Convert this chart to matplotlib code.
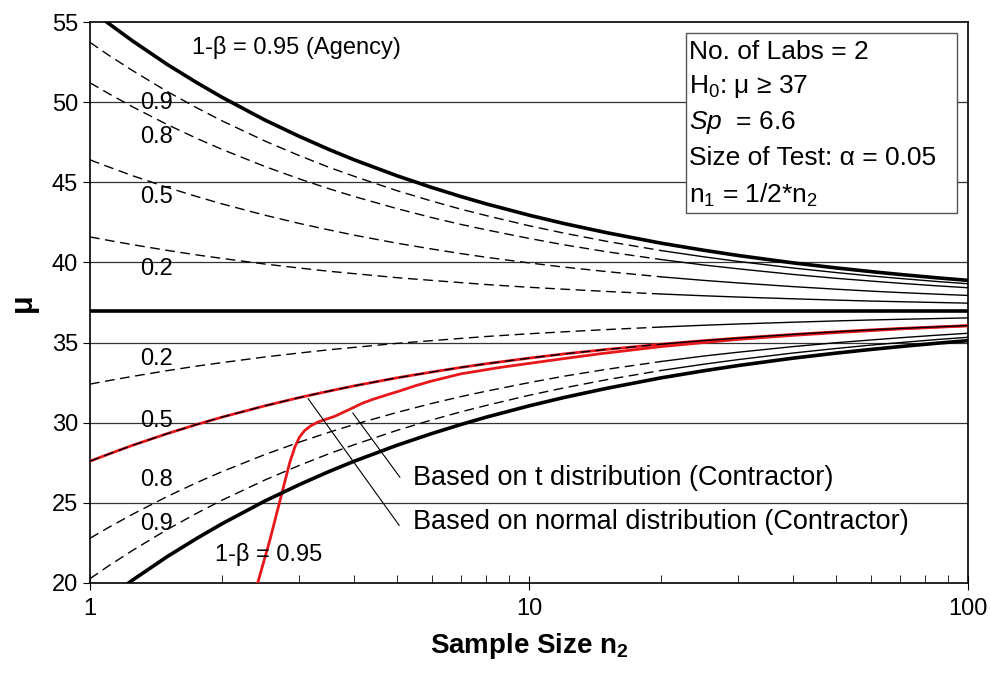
import matplotlib
matplotlib.use("Agg")
import matplotlib.pyplot as plt
from matplotlib.patches import Rectangle

plt.rcParams['font.family'] = ['Liberation Sans', 'DejaVu Sans']
plt.rcParams['mathtext.fontset'] = 'custom'
plt.rcParams['mathtext.rm'] = 'Liberation Sans'
plt.rcParams['mathtext.it'] = 'Liberation Sans:italic'
plt.rcParams['mathtext.bf'] = 'Liberation Sans:bold'

# ---------------- data ----------------
n2 = [1, 1.1, 1.25, 1.5, 1.75, 2, 2.5, 3, 3.5, 4, 5, 6, 7, 8, 10, 12, 15, 20,
      25, 30, 40, 50, 60, 70, 85, 100]

agency_095 = [55.81, 54.93, 53.82, 52.35, 51.22, 50.30, 48.89, 47.86, 47.05, 46.40, 45.41, 44.68, 44.11,
              43.65, 42.95, 42.43, 41.86, 41.20, 40.76, 40.43, 39.97, 39.66, 39.43, 39.25, 39.04, 38.88]
agency_090 = [53.73, 52.95, 51.97, 50.66, 49.65, 48.83, 47.58, 46.66, 45.94, 45.37, 44.48, 43.83, 43.32,
              42.92, 42.29, 41.83, 41.32, 40.74, 40.35, 40.06, 39.65, 39.37, 39.16, 39.00, 38.81, 38.67]
agency_080 = [51.21, 50.55, 49.71, 48.60, 47.74, 47.05, 45.99, 45.21, 44.60, 44.11, 43.36, 42.80, 42.37,
              42.03, 41.50, 41.10, 40.67, 40.18, 39.84, 39.60, 39.25, 39.01, 38.84, 38.70, 38.54, 38.42]
agency_050 = [46.40, 45.97, 45.41, 44.68, 44.11, 43.65, 42.95, 42.43, 42.03, 41.70, 41.20, 40.84, 40.55,
              40.32, 39.97, 39.71, 39.43, 39.10, 38.88, 38.72, 38.49, 38.33, 38.21, 38.12, 38.02, 37.94]
agency_020 = [41.59, 41.38, 41.11, 40.75, 40.47, 40.25, 39.90, 39.65, 39.45, 39.30, 39.05, 38.88, 38.74,
              38.62, 38.45, 38.33, 38.19, 38.03, 37.92, 37.84, 37.73, 37.65, 37.59, 37.55, 37.50, 37.46]

contr_095 = [18.19, 19.07, 20.18, 21.65, 22.78, 23.70, 25.11, 26.14, 26.95, 27.60, 28.59, 29.32, 29.89,
             30.35, 31.05, 31.57, 32.14, 32.80, 33.24, 33.57, 34.03, 34.34, 34.57, 34.75, 34.96, 35.12]
contr_090 = [20.27, 21.05, 22.03, 23.34, 24.35, 25.17, 26.42, 27.34, 28.06, 28.63, 29.52, 30.17, 30.68,
             31.08, 31.71, 32.17, 32.68, 33.26, 33.65, 33.94, 34.35, 34.63, 34.84, 35.00, 35.19, 35.33]
contr_080 = [22.79, 23.45, 24.29, 25.40, 26.26, 26.95, 28.01, 28.79, 29.40, 29.89, 30.64, 31.20, 31.63,
             31.97, 32.50, 32.90, 33.33, 33.82, 34.16, 34.40, 34.75, 34.99, 35.16, 35.30, 35.46, 35.58]
contr_050 = [27.60, 28.03, 28.59, 29.32, 29.89, 30.35, 31.05, 31.57, 31.97, 32.30, 32.80, 33.16, 33.45,
             33.68, 34.03, 34.29, 34.57, 34.90, 35.12, 35.28, 35.51, 35.67, 35.79, 35.88, 35.98, 36.06]
contr_020 = [32.41, 32.62, 32.89, 33.25, 33.53, 33.75, 34.10, 34.35, 34.55, 34.70, 34.95, 35.12, 35.26,
             35.38, 35.55, 35.67, 35.81, 35.97, 36.08, 36.16, 36.27, 36.35, 36.41, 36.45, 36.50, 36.54]

# t-distribution based curve (contractor, 1-beta = 0.5)
t_n2 = [2.41, 2.57, 2.73, 2.85, 2.93, 3.0, 3.08, 3.18, 3.31, 3.61, 3.95, 4.16, 4.4, 4.70, 5.1, 5.5,
        6.0, 7.0, 8.6, 10, 12, 14.5, 20, 25, 30, 40, 50, 70, 100]
t_050 = [20.0, 22.7, 25.5, 27.5, 28.5, 29.1, 29.5, 29.8, 30.05, 30.4, 30.9, 31.2, 31.45, 31.7, 32.0, 32.3,
         32.6, 33.05, 33.45, 33.7, 34.0, 34.3, 34.75, 35.0, 35.2, 35.45, 35.62, 35.85, 36.04]

h0_mu = 37

upper_labels = ["0.9", "0.8", "0.5", "0.2"]
upper_label_y = [49.94, 47.8, 44.06, 39.6]
lower_labels = ["0.2", "0.5", "0.8", "0.9"]
lower_label_y = [34.0, 30.1, 26.4, 23.7]

box_lines = ["No. of Labs = 2", "H$_0$: μ ≥ 37", "$Sp$  = 6.6", "Size of Test: α = 0.05", "n$_1$ = 1/2*n$_2$"]

t_note = "Based on t distribution (Contractor)"
n_note = "Based on normal distribution (Contractor)"
t_pointer = [(5.08, 26.6), (3.97, 30.6)]
n_pointer = [(5.06, 23.6), (3.14, 31.5)]

# ---------------- figure ----------------
fig = plt.figure(figsize=(9.9, 6.75), dpi=100)
ax = fig.add_axes([0.0909, 0.1363, 0.8869, 0.8311])
ax.set_xscale('log')
ax.set_xlim(1, 100)
ax.set_ylim(20, 55)

for y in [25, 30, 35, 40, 45, 50]:
    ax.axhline(y, color='#333333', lw=0.9, zorder=1)
ax.axhline(h0_mu, color='black', lw=2.6, zorder=3)

split = n2.index(20)

def dashed_curve(ys):
    ax.plot(n2[:split + 1], ys[:split + 1], color='black', lw=1.0,
            dashes=(7, 4), zorder=4)
    ax.plot(n2[split:], ys[split:], color='black', lw=1.0, zorder=4)

# red under-line for the normal 0.5 contractor curve and the t-based curve
ax.plot(n2, contr_050, color='#e8171c', lw=2.0, zorder=3)
ax.plot(t_n2, t_050, color='#e8171c', lw=2.0, zorder=3)

for ys in [agency_090, agency_080, agency_050, agency_020,
           contr_090, contr_080, contr_050, contr_020]:
    dashed_curve(ys)

ax.plot(n2, agency_095, color='black', lw=2.6, zorder=4)
ax.plot(n2, contr_095, color='black', lw=2.6, zorder=4)

fs = 17
ax.text(1.707, 53.44, "1-β = 0.95 (Agency)", fontsize=fs, va='center', ha='left')
for lab, y in zip(upper_labels, upper_label_y):
    ax.text(1.42, y, lab, fontsize=fs, va='center', ha='center')
for lab, y in zip(lower_labels, lower_label_y):
    ax.text(1.42, y, lab, fontsize=fs, va='center', ha='center')
ax.text(1.93, 21.8, "1-β = 0.95", fontsize=fs, va='center', ha='left')

# annotations
ax.plot([p[0] for p in t_pointer], [p[1] for p in t_pointer], color='black', lw=0.8, zorder=5)
ax.plot([p[0] for p in n_pointer], [p[1] for p in n_pointer], color='black', lw=0.8, zorder=5)
ax.text(5.44, 26.56, t_note, fontsize=19.5, va='center', ha='left')
ax.text(5.44, 23.81, n_note, fontsize=19.5, va='center', ha='left')

# info box
bx0, by0 = 686, 33
bx1, by1 = 957, 213
W, H = 990, 675
fig.patches.append(Rectangle((bx0 / W, 1 - by1 / H), (bx1 - bx0) / W, (by1 - by0) / H,
                             transform=fig.transFigure, facecolor='white',
                             edgecolor='#555555', lw=1.0, zorder=10))
line_y = [52, 87, 123, 158, 195]
for txt, py in zip(box_lines, line_y):
    fig.text((bx0 + 3) / W, 1 - py / H, txt, fontsize=19, va='center', ha='left', zorder=11)

# axes styling
for s in ax.spines.values():
    s.set_color('black')
    s.set_linewidth(1.2)
ax.set_xticks([1, 10, 100])
ax.set_xticklabels(['1', '10', '100'])
ax.set_yticks([20, 25, 30, 35, 40, 45, 50, 55])
ax.tick_params(axis='x', which='major', direction='inout', length=10, labelsize=fs, pad=6)
ax.tick_params(axis='x', which='minor', direction='in', length=6)
ax.tick_params(axis='y', which='major', direction='out', length=5, labelsize=fs)
ax.set_xlabel("Sample Size n$_\\mathbf{2}$", fontsize=20, fontweight='bold', labelpad=8)
ax.set_ylabel("μ", fontsize=22, fontweight='bold', labelpad=10)

fig.savefig("out.png", dpi=100)
